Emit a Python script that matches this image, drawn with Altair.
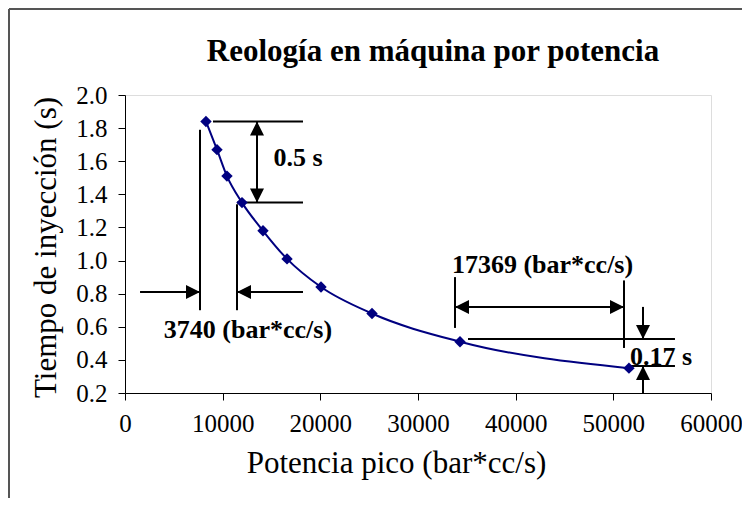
import altair as alt
import pandas as pd

# --- data ---
potencia = [8290, 9420, 10440, 11980, 14130, 16590, 20070, 25290, 34300, 51600]
tiempo = [1.84, 1.67, 1.51, 1.35, 1.18, 1.01, 0.84, 0.68, 0.51, 0.35]

x_ticks = [0, 10000, 20000, 30000, 40000, 50000, 60000]
y_ticks = [0.2, 0.4, 0.6, 0.8, 1.0, 1.2, 1.4, 1.6, 1.8, 2.0]

# annotation segments (data units)
seg_x = [9010, 11470, 13515, 7680, 11470, 1540, 11470, 33790, 51090, 33790, 35120, 51810, 53040, 53040]
seg_x2 = [18225, 18225, 13515, 7680, 11470, 7680, 18225, 33790, 51090, 51090, 56310, 56310, 53040, 53040]
seg_y = [1.84, 1.35, 1.84, 1.79, 1.34, 0.81, 0.81, 0.90, 0.88, 0.72, 0.526, 0.363, 0.72, 0.2]
seg_y2 = [1.84, 1.35, 1.35, 0.70, 0.70, 0.81, 0.81, 0.593, 0.472, 0.72, 0.526, 0.363, 0.526, 0.363]

# arrow heads (tip position, direction)
arrow_x = [13515, 13515, 7680, 11470, 33790, 51090, 53040, 53040]
arrow_y = [1.84, 1.35, 0.81, 0.81, 0.72, 0.72, 0.526, 0.363]
arrow_dir = ["up", "down", "right", "left", "left", "right", "down", "up"]

label_text = ["0.5 s", "3740 (bar*cc/s)", "17369 (bar*cc/s)", "0.17 s"]
label_x = [17710, 12590, 42750, 54880]
label_y = [1.62, 0.58, 0.973, 0.415]

title_text = ["Reología en máquina por potencia"]

paths = {
    "up": "M0,0L-1,2L1,2Z",
    "down": "M0,0L-1,-2L1,-2Z",
    "right": "M0,0L-2,-1L-2,1Z",
    "left": "M0,0L2,-1L2,1Z",
}

df = pd.DataFrame({"potencia": potencia, "tiempo": tiempo})
seg_df = pd.DataFrame({"x": seg_x, "x2": seg_x2, "y": seg_y, "y2": seg_y2})
arr_df = pd.DataFrame({"x": arrow_x, "y": arrow_y, "shape": [paths[d] for d in arrow_dir]})
lab_df = pd.DataFrame({"text": label_text, "x": label_x, "y": label_y})
title_df = pd.DataFrame({"t": title_text})

FONT = "Liberation Serif"

xscale = alt.Scale(domain=[0, 60000], nice=False, zero=False)
yscale = alt.Scale(domain=[0.2, 2.0], nice=False, zero=False)

xaxis = alt.Axis(
    values=x_ticks, format="d", grid=False, title="Potencia pico (bar*cc/s)",
    labelPadding=11, labelFlush=False, labelOverlap=False,
    titleBaseline="alphabetic", titleY=79, titleX=271, titleAlign="center",
)
yaxis = alt.Axis(
    values=y_ticks, format=".1f", grid=False, title="Tiempo de inyección (s)",
    labelPadding=11, labelFlush=False, labelOverlap=False,
    titleBaseline="alphabetic", titleAngle=-90, titleX=-70, titleY=152, titleAlign="center",
)

X = lambda f: alt.X(f, scale=xscale, axis=xaxis)
Y = lambda f: alt.Y(f, scale=yscale, axis=yaxis)

line = alt.Chart(df).mark_line(interpolate="monotone", color="#000080", strokeWidth=2).encode(
    x=X("potencia:Q"), y=Y("tiempo:Q"),
)
pts = alt.Chart(df).mark_point(shape="diamond", filled=True, color="#000080", size=130, opacity=1).encode(
    x=X("potencia:Q"), y=Y("tiempo:Q"),
)
segs = alt.Chart(seg_df).mark_rule(color="black", strokeWidth=2).encode(
    x=X("x:Q"), x2="x2:Q", y=Y("y:Q"), y2="y2:Q",
)
arrows = alt.Chart(arr_df).mark_point(filled=True, color="black", size=196, opacity=1).encode(
    x=X("x:Q"), y=Y("y:Q"),
    shape=alt.Shape("shape:N", scale=None, legend=None),
)
labels = alt.Chart(lab_df).mark_text(font=FONT, fontSize=26, fontWeight="bold", color="black",
                                     baseline="middle", align="center").encode(
    x=X("x:Q"), y=Y("y:Q"), text="text:N",
)

# chart title, placed above the plot area
title = alt.Chart(title_df).mark_text(font=FONT, fontSize=31, fontWeight="bold", color="black",
                                      baseline="alphabetic", align="center").encode(
    x=alt.value(308), y=alt.value(-34), text="t:N")

# outer frame (decorative border as in the reference)
frame_top = alt.Chart(df).mark_rule(color="#555555", strokeWidth=2).encode(
    x=alt.value(-116), x2=alt.value(617), y=alt.value(-86))
frame_left = alt.Chart(df).mark_rule(color="#555555", strokeWidth=2).encode(
    x=alt.value(-116), y=alt.value(-86), y2=alt.value(405))

chart = alt.layer(segs, line, pts, arrows, labels, title, frame_top, frame_left).properties(
    width=586, height=298,
    autosize=alt.AutoSizeParams(type="none"),
    padding={"left": 117, "top": 87, "right": 31, "bottom": 105},
).configure_view(stroke=None).configure(background="white", font=FONT).configure_axis(
    labelFont=FONT, labelFontSize=25, labelColor="black",
    tickSize=7, tickColor="black", domainColor="black",
    titleFont=FONT, titleFontSize=31, titleFontWeight="normal", titleColor="black",
)

chart.save("out.html", embed_options={"renderer": "svg", "actions": False})
